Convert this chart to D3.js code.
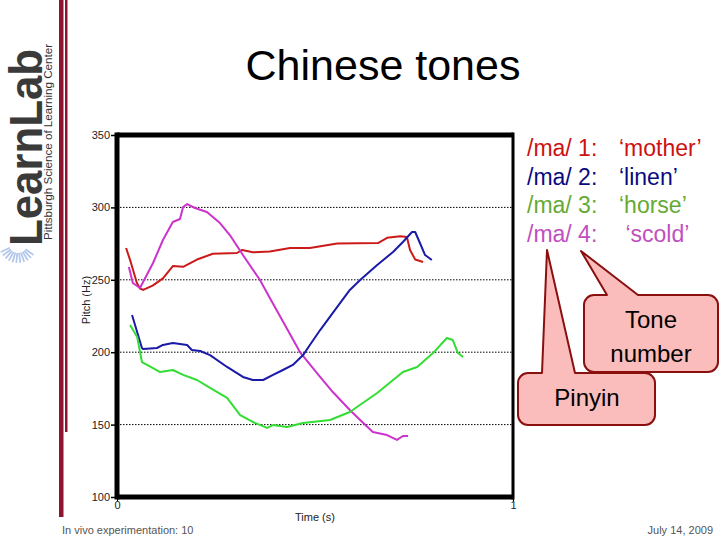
<!DOCTYPE html>
<html>
<head>
<meta charset="utf-8">
<script src="https://cdn.jsdelivr.net/npm/d3@7/dist/d3.min.js"></script>
<style>
  body { margin: 0; background: #fff; }
  svg { display: block; font-family: "Liberation Sans", Arial, sans-serif; }
</style>
</head>
<body>
<svg id="slide" width="720" height="540"></svg>
<script>
// pitch tracks: [time (s), pitch (Hz)]
const tone1 = [[0.023,272],[0.035,262],[0.05,248],[0.058,244],[0.066,243],[0.09,246],[0.116,251],[0.141,259.5],[0.167,259],[0.202,264],[0.242,268],[0.303,268.5],[0.316,270.6],[0.343,269],[0.386,269.5],[0.437,272],[0.487,272],[0.556,275],[0.659,275.4],[0.682,279],[0.715,280],[0.732,279.6],[0.740,270.6],[0.753,264],[0.773,262.3]];
const tone2 = [[0.038,225.7],[0.063,202.9],[0.066,202.2],[0.101,202.9],[0.116,205],[0.141,206.4],[0.177,205],[0.189,201.5],[0.21,200.8],[0.235,198],[0.278,189.8],[0.318,182.9],[0.343,180.8],[0.369,180.8],[0.394,184.3],[0.419,187.7],[0.444,191.2],[0.47,198],[0.487,205],[0.513,215.3],[0.545,227.1],[0.588,243],[0.614,249.9],[0.657,260.2],[0.697,269.2],[0.722,276.1],[0.745,283],[0.753,283],[0.765,275.4],[0.778,267.1],[0.795,263.7]];
const tone3 = [[0.033,218.8],[0.051,210.5],[0.063,193.2],[0.076,191.2],[0.109,186.3],[0.141,187.7],[0.167,184.3],[0.202,180.8],[0.235,175.3],[0.278,168.4],[0.311,156.6],[0.343,151.8],[0.379,147.7],[0.394,149.7],[0.429,148.3],[0.47,151.1],[0.538,153.2],[0.588,158.7],[0.657,171.8],[0.722,186.3],[0.758,189.8],[0.798,199.4],[0.833,209.8],[0.848,208.4],[0.861,199.4],[0.874,196.7]];
const tone4 = [[0.03,258.8],[0.04,247.8],[0.058,244.3],[0.091,261.6],[0.116,277.5],[0.141,289.9],[0.159,292],[0.167,300.3],[0.177,302.3],[0.197,299.6],[0.227,296.8],[0.26,289.2],[0.285,280.9],[0.318,267.1],[0.361,249.9],[0.386,237.4],[0.462,200.1],[0.505,185.6],[0.545,172.5],[0.588,160.1],[0.614,153.2],[0.646,144.9],[0.682,142.8],[0.707,139.4],[0.722,142.1],[0.735,142.1]];

const yTicks = [100, 150, 200, 250, 300, 350];
const gridTicks = [150, 200, 250, 300];
const xTicks = [0, 1];

const legendSyllables = ["/ma/ 1:", "/ma/ 2:", "/ma/ 3:", "/ma/ 4:"];
const legendMeanings = ["\u2018mother\u2019", "\u2018linen\u2019", "\u2018horse\u2019", " \u2018scold\u2019"];

const lineColors = ["#cc1a1a", "#1a1aa8", "#33dd33", "#cc33cc"];
const textColors = ["#cc1111", "#0a0a80", "#66aa33", "#c050c0"];

const svg = d3.select("#slide");

// left decoration bars
svg.append("rect").attr("x", 59).attr("y", 0).attr("width", 4.5).attr("height", 517).attr("fill", "#8e1530");
svg.append("rect").attr("x", 65).attr("y", 0).attr("width", 2.5).attr("height", 432).attr("fill", "#8e1530");

// LearnLab logo (rotated)
const logo = svg.append("g").attr("transform", "translate(42,246) rotate(-90)");
logo.append("text").attr("x", 0).attr("y", 0)
  .attr("font-size", 46).attr("font-weight", "bold").attr("fill", "#3a3a3a")
  .attr("textLength", 197).attr("lengthAdjust", "spacingAndGlyphs")
  .text("LearnLab");
logo.append("text").attr("x", 6).attr("y", 10)
  .attr("font-size", 11.5).attr("fill", "#333")
  .attr("textLength", 196).attr("lengthAdjust", "spacingAndGlyphs")
  .text("Pittsburgh Science of Learning Center");
// little sunburst under the L
const rays = d3.range(11);
const ang = d => (35 + d * 12) * Math.PI / 180;
svg.append("g").selectAll("line").data(rays).join("line")
  .attr("x1", d => 18 + 9 * Math.cos(ang(d)))
  .attr("y1", d => 244 + 9 * Math.sin(ang(d)))
  .attr("x2", d => 18 + 19 * Math.cos(ang(d)))
  .attr("y2", d => 244 + 19 * Math.sin(ang(d)))
  .attr("stroke", "#b4c8ec").attr("stroke-width", 1.8);

// title
svg.append("text").attr("x", 383).attr("y", 80).attr("text-anchor", "middle")
  .attr("font-size", 43).attr("fill", "#000").text("Chinese tones");

// plot
const x = d3.scaleLinear().domain([0, 1]).range([117, 513]);
const y = d3.scaleLinear().domain([100, 350]).range([497, 135]);

const grid = svg.append("g");
grid.selectAll("line").data(gridTicks).join("line")
  .attr("x1", x(0)).attr("x2", x(1))
  .attr("y1", d => y(d)).attr("y2", d => y(d))
  .attr("stroke", "#000").attr("stroke-width", 1).attr("stroke-dasharray", "1.5,1.5");

const line = d3.line().x(d => x(d[0])).y(d => y(d[1]));
const series = [tone1, tone4, tone2, tone3];
const seriesColors = [lineColors[0], lineColors[3], lineColors[1], lineColors[2]];
svg.append("g").selectAll("path").data(series).join("path")
  .attr("d", line).attr("fill", "none")
  .attr("stroke", (d, i) => seriesColors[i]).attr("stroke-width", 2)
  .attr("stroke-linejoin", "round");

// frame
const frame = svg.append("g").attr("stroke", "#000").attr("fill", "none");
frame.append("line").attr("x1", x(0)).attr("x2", x(1)).attr("y1", y(350)).attr("y2", y(350)).attr("stroke-width", 5);
frame.append("line").attr("x1", x(0)).attr("x2", x(1)).attr("y1", y(100)).attr("y2", y(100)).attr("stroke-width", 5);
frame.append("line").attr("x1", x(0)).attr("x2", x(0)).attr("y1", y(350) - 2.5).attr("y2", y(100) + 2.5).attr("stroke-width", 5);
frame.append("line").attr("x1", x(1)).attr("x2", x(1)).attr("y1", y(350) - 2.5).attr("y2", y(100) + 2.5).attr("stroke-width", 3);

// axes
const tickFont = "'Liberation Sans Narrow', 'Liberation Sans', Arial, sans-serif";
const yAxis = svg.append("g").attr("transform", `translate(${x(0) - 2},0)`)
  .call(d3.axisLeft(y).tickValues(yTicks).tickSize(4).tickPadding(1));
yAxis.select(".domain").remove();
yAxis.selectAll("text").attr("font-size", 11).attr("font-family", tickFont).attr("fill", "#222");
yAxis.selectAll("line").attr("stroke-width", 1.5);

const xAxis = svg.append("g").attr("transform", `translate(0,${y(100) + 2})`)
  .call(d3.axisBottom(x).tickValues(xTicks).tickFormat(d3.format("d")).tickSize(2).tickPadding(0));
xAxis.select(".domain").remove();
xAxis.selectAll("text").attr("font-size", 11).attr("font-family", tickFont).attr("fill", "#222");

svg.append("text").attr("x", 315).attr("y", 521).attr("text-anchor", "middle")
  .attr("font-size", 11).attr("font-family", tickFont).attr("fill", "#222").text("Time (s)");
svg.append("text").attr("transform", "translate(90,300) rotate(-90)").attr("text-anchor", "middle")
  .attr("font-size", 11).attr("font-family", tickFont).attr("fill", "#222").text("Pitch (Hz)");

// legend
const legend = svg.append("g").attr("font-size", 23);
legend.selectAll("text.syl").data(legendSyllables).join("text").attr("class", "syl")
  .attr("x", 527).attr("y", (d, i) => 156 + i * 28.7)
  .attr("fill", (d, i) => textColors[i]).text(d => d);
legend.selectAll("text.mean").data(legendMeanings).join("text").attr("class", "mean")
  .attr("x", 619).attr("y", (d, i) => 156 + i * 28.7)
  .attr("xml:space", "preserve").style("white-space", "pre")
  .attr("fill", (d, i) => textColors[i]).text(d => d);

// callouts
function callout(bx, by, w, h, r, p1, p2, tx, ty) {
  return `M${bx + r},${by} L${p1},${by} L${tx},${ty} L${p2},${by} L${bx + w - r},${by}` +
    ` A${r},${r} 0 0 1 ${bx + w},${by + r} L${bx + w},${by + h - r}` +
    ` A${r},${r} 0 0 1 ${bx + w - r},${by + h} L${bx + r},${by + h}` +
    ` A${r},${r} 0 0 1 ${bx},${by + h - r} L${bx},${by + r}` +
    ` A${r},${r} 0 0 1 ${bx + r},${by} Z`;
}
const calloutFill = "#fbbcbc", calloutStroke = "#8a1010";
svg.append("path").attr("d", callout(584, 295, 134, 77, 10, 607, 638, 581, 251))
  .attr("fill", calloutFill).attr("stroke", calloutStroke).attr("stroke-width", 2).attr("stroke-linejoin", "round");
svg.append("text").attr("x", 651).attr("y", 328).attr("text-anchor", "middle").attr("font-size", 24).text("Tone");
svg.append("text").attr("x", 651).attr("y", 362).attr("text-anchor", "middle").attr("font-size", 24).text("number");

svg.append("path").attr("d", callout(518, 373, 137, 52, 10, 542, 575, 547, 250))
  .attr("fill", calloutFill).attr("stroke", calloutStroke).attr("stroke-width", 2).attr("stroke-linejoin", "round");
svg.append("text").attr("x", 587).attr("y", 406).attr("text-anchor", "middle").attr("font-size", 24).text("Pinyin");

// footer
svg.append("text").attr("x", 62).attr("y", 534).attr("font-size", 11).attr("font-family", tickFont)
  .attr("fill", "#555").text("In vivo experimentation: 10");
svg.append("text").attr("x", 713).attr("y", 534).attr("text-anchor", "end").attr("font-size", 11).attr("font-family", tickFont)
  .attr("fill", "#555").text("July 14, 2009");
</script>
</body>
</html>
